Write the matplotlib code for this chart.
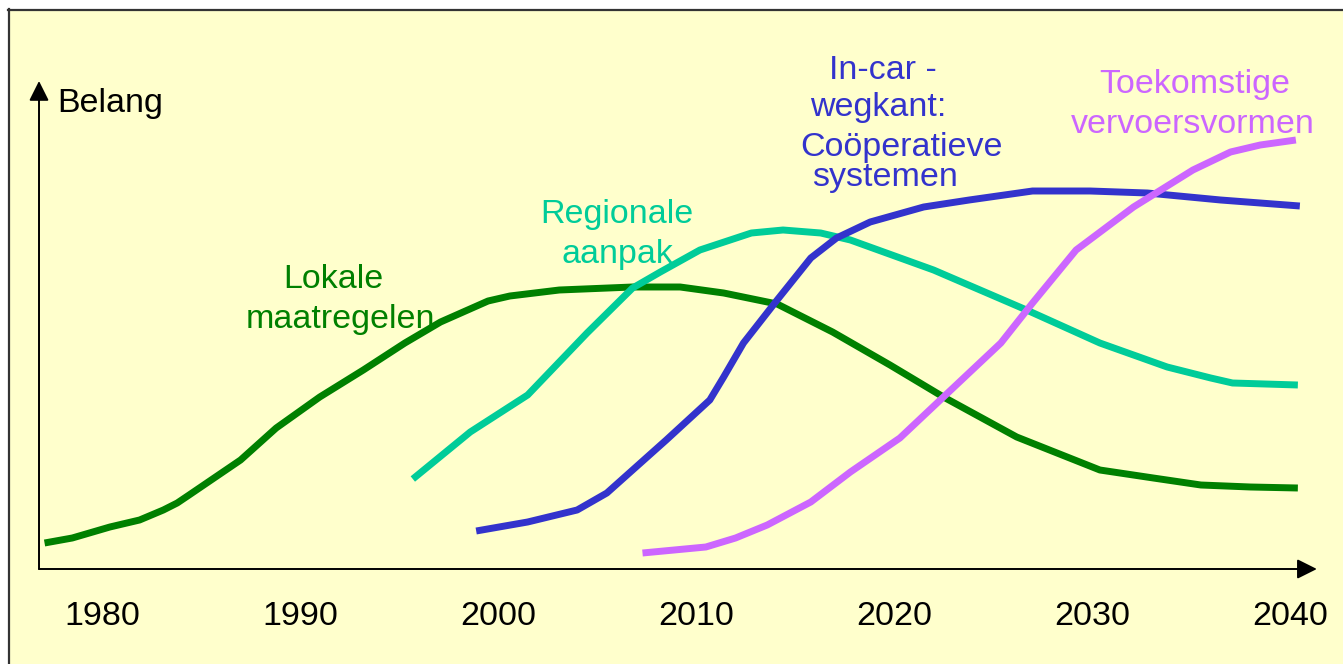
import matplotlib.pyplot as plt
from matplotlib.patches import Rectangle
from matplotlib.lines import Line2D

# ---- data (year, belang) ----
lokale_year = [1977.1, 1978.5, 1980.4, 1981.9, 1983.1, 1983.8, 1984.4, 1987.0, 1988.8,
               1991.0, 1993.2, 1995.3, 1997.1, 1999.5, 2000.6, 2003.1, 2006.8, 2009.2,
               2011.4, 2014.1, 2016.9, 2019.8, 2022.5, 2026.2, 2030.4, 2033.1, 2035.5,
               2038.0, 2040.4]
lokale_val = [0.52, 0.62, 0.84, 0.98, 1.18, 1.32, 1.48, 2.18, 2.82,
              3.44, 3.98, 4.52, 4.94, 5.36, 5.46, 5.58, 5.64, 5.64,
              5.52, 5.30, 4.74, 4.08, 3.44, 2.64, 1.98, 1.82, 1.68,
              1.64, 1.62]

regio_year = [1995.7, 1998.6, 2001.5, 2004.5, 2006.8, 2008.2, 2010.2, 2012.8, 2014.4,
              2016.3, 2017.8, 2022.0, 2026.7, 2030.4, 2033.8, 2036.0, 2037.1, 2040.4]
regio_val = [1.80, 2.74, 3.48, 4.72, 5.62, 5.94, 6.38, 6.72, 6.78,
             6.72, 6.58, 5.98, 5.18, 4.52, 4.04, 3.82, 3.72, 3.68]

coop_year = [1998.9, 2001.5, 2004.0, 2005.5, 2008.5, 2010.7, 2011.4, 2012.4, 2014.1,
             2015.8, 2017.1, 2018.8, 2021.5, 2023.8, 2027.0, 2029.9, 2032.8, 2036.5,
             2040.5]
coop_val = [0.76, 0.94, 1.18, 1.52, 2.58, 3.38, 3.84, 4.52, 5.38,
            6.22, 6.62, 6.94, 7.24, 7.38, 7.56, 7.56, 7.52, 7.38,
            7.26]

toek_year = [2007.3, 2010.5, 2012.0, 2013.6, 2015.8, 2017.8, 2020.3, 2022.5, 2025.4,
             2027.0, 2029.2, 2032.1, 2035.1, 2037.0, 2038.5, 2040.3]
toek_val = [0.32, 0.44, 0.62, 0.88, 1.34, 1.94, 2.62, 3.44, 4.52,
            5.32, 6.38, 7.24, 7.98, 8.34, 8.48, 8.58]

decades = [1980, 1990, 2000, 2010, 2020, 2030, 2040]

GREEN = '#008000'
TEAL = '#00CC99'
BLUE = '#3333CC'
VIOLET = '#CC66FF'

plt.rcParams['font.family'] = ['Liberation Sans', 'DejaVu Sans']

fig = plt.figure(figsize=(13.43, 6.64), dpi=100)
fig.patch.set_facecolor('white')

# yellow panel with a dark frame on the top and left
W, H = 1343, 664
fig.add_artist(Rectangle((9 / W, 0), 1, 1 - 10 / H, transform=fig.transFigure,
                         facecolor='#FFFFCC', edgecolor='none', zorder=0))
fig.add_artist(Line2D([9 / W, 9 / W], [0, 1 - 9 / H], transform=fig.transFigure,
                      color='#333333', lw=1.6, zorder=1))
fig.add_artist(Line2D([8 / W, 1], [1 - 9.5 / H, 1 - 9.5 / H], transform=fig.transFigure,
                      color='#333333', lw=1.6, zorder=1))

ax = fig.add_axes([0, 0, 1, 1])
ax.set_facecolor('none')
ax.set_xlim(1974.85, 2042.68)
ax.set_ylim(-1.9, 11.38)
ax.axis('off')

# axes with arrow heads
arrow = dict(arrowstyle='-|>', mutation_scale=30, lw=1.4, color='black',
             shrinkA=0, shrinkB=0)
ax.annotate('', xy=(2041.36, 0), xytext=(1976.82, 0), arrowprops=arrow)
ax.annotate('', xy=(1976.82, 9.76), xytext=(1976.82, 0), arrowprops=arrow)

# curves
for xs, ys, c in [(lokale_year, lokale_val, GREEN),
                  (regio_year, regio_val, TEAL),
                  (coop_year, coop_val, BLUE),
                  (toek_year, toek_val, VIOLET)]:
    ax.plot(xs, ys, color=c, lw=5, solid_joinstyle='round', solid_capstyle='butt')

fs = 24.5
for d in decades:
    ax.text(d, -1.12, str(d), ha='center', va='baseline', fontsize=fs)

ax.text(1977.73, 9.14, 'Belang', ha='left', va='baseline', fontsize=fs)

labels = [
    ('Lokale', 1991.67, 5.62, GREEN),
    ('maatregelen', 1992.07, 4.82, GREEN),
    ('Regionale', 2006.01, 6.92, TEAL),
    ('aanpak', 2006.01, 6.12, TEAL),
    ('In-car -', 2019.44, 9.80, BLUE),
    ('wegkant:', 2019.19, 9.06, BLUE),
    ('Coöperatieve', 2020.40, 8.26, BLUE),
    ('systemen', 2019.55, 7.66, BLUE),
    ('Toekomstige', 2035.20, 9.52, VIOLET),
    ('vervoersvormen', 2035.10, 8.72, VIOLET),
]
for txt, x, y, c in labels:
    ax.text(x, y, txt, ha='center', va='baseline', fontsize=fs, color=c)

fig.savefig('out.png', dpi=100)
